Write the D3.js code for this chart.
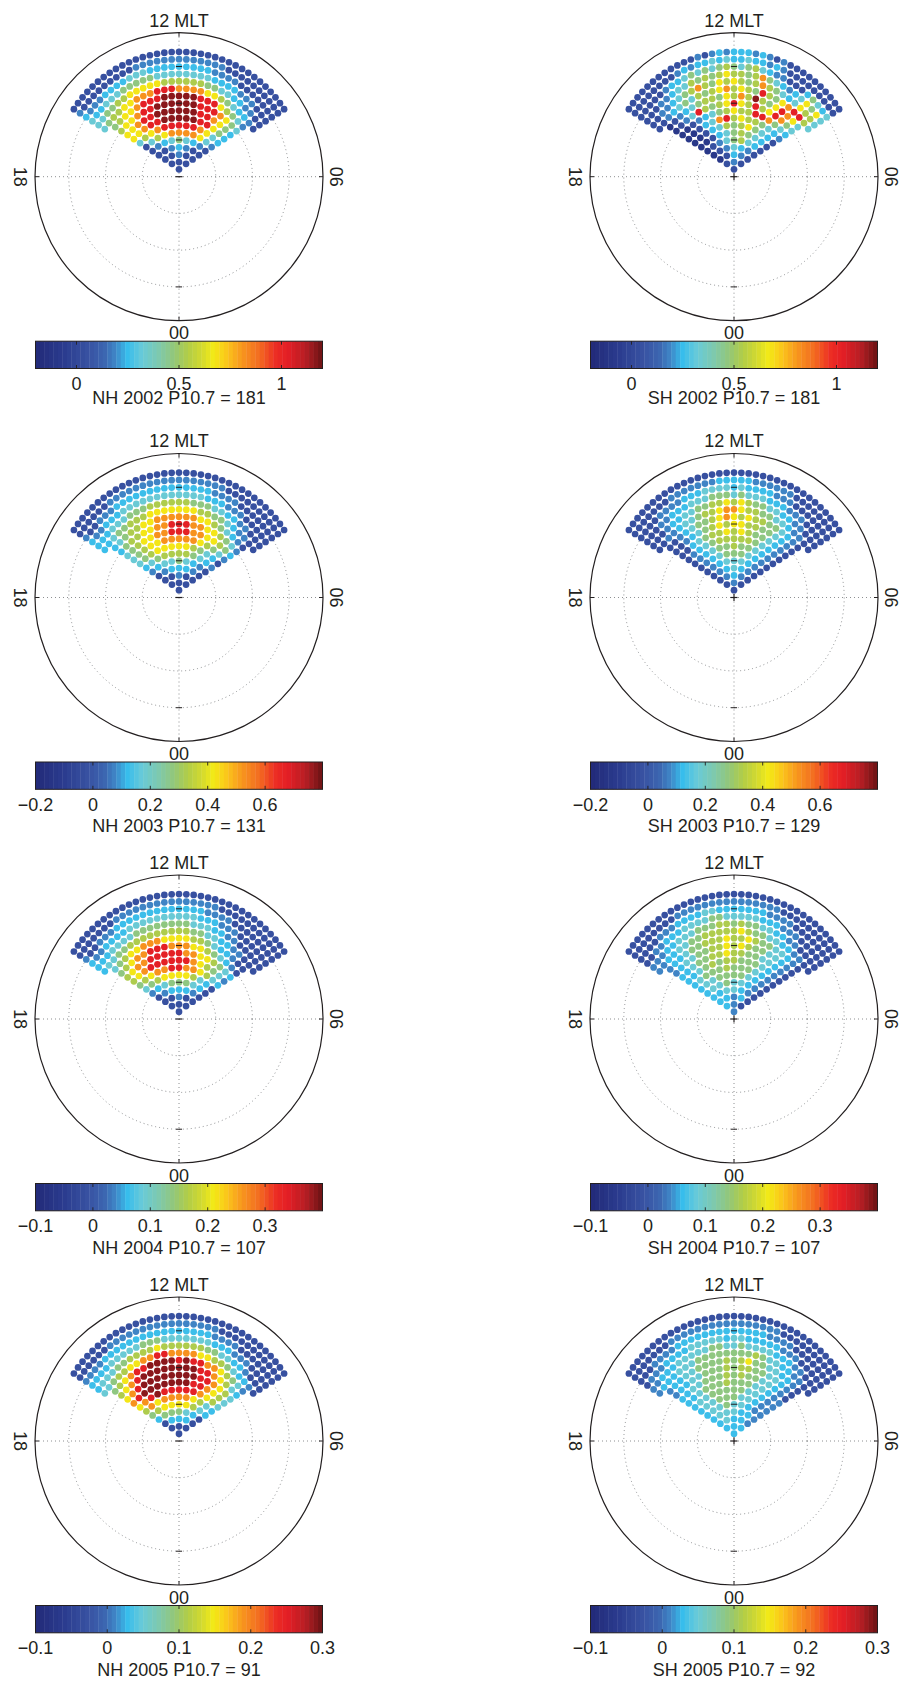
<!DOCTYPE html>
<html>
<head>
<meta charset="utf-8">
<script src="https://cdn.jsdelivr.net/npm/d3@7"></script>
<style>
  body { margin: 0; background: #fff; }
  svg { display: block; }
  text { font-family: "Liberation Sans", Arial, sans-serif; fill: #231f20; }
</style>
</head>
<body>
<svg id="fig" width="902" height="1681"></svg>
<script>
// Bin-centre colatitudes (deg) of the rings, pole outward; grid circles every 10 deg
const ringColat = [2, 4, 6, 8, 10, 12, 14, 16, 18, 20, 22, 24, 26, 28, 30, 32, 34];
const gridColat = [10, 20, 30];

// Each bin value is stored as one of 20 equal steps across its colour range
// (a = lowest step ... t = highest); one string per ring, dusk (18 MLT) to dawn (06 MLT).
const levelCodes = "abcdefghijklmnopqrst";

const nh2002 = [
  "d", "ddd", "ddfdd", "ddfgfdd", "dfghjhgfd", "dhkmoooomhf", "hkmorrrrromhg",
  "mmorrtttttrrmjg", "mmorrttttttrromjg", "kmmorrttttttrrromjh", "jkmmorrrtttttrrrmkjhf",
  "hjkkmmooorrroooommkjhggfd", "hhjjkkmmmmmkkkkkkjjhhggffdd", "hgghhhjjjjjhhhhhhhhggggfffddd",
  "gfffgggghhhgggggggggffffddddddd", "fdddddddddfffffffffffffdddddddddd",
  "ddddddddddddddddddddddddddddddddddd"
];
const sh2002 = [
  "d", "dfd", "bdgfd", "bdfhgfd", "bdfhjkhgd", "bbdghjkjhgd", "bbdghkjkmjhgd",
  "bbdghorkmkkjhgf", "bbdfghjkmkkrrojhg", "bdfhrkjkmrmkrkmrojh", "bdfghjkkjmkoktkjmromh",
  "ddfghjhkjkmokmkjrkjmorrkh", "ddffghjkokjmkmkjkokjhghmkkh", "dddffghhkjkjkmkkjkojhgfghmjmh",
  "dddddfgghjhjhjkjhjkhgffdddgjhgh", "ddddddddfgfgghghgghggfgfddddddddd",
  "ddddddddddddfdfgfgggfgfdfdddddddddd"
];
const nh2003 = [
  "d", "ddd", "ddfdd", "dfgggfd", "fghhjhgfd", "ghjkkkkjhgf", "hjkmmmmmkjhgd",
  "hjkmmooooomkjhf", "hjkmmoorrroommkjg", "gjkkmmoorrroommkjhf", "ghjkkmmoooooommkjhgfd",
  "gghjjkkkmmmmmmmkkjjhgffdd", "ggghhhjjjkkkkkkjjjhhggffddd", "gffggghhhhhhhhhhhhgggfffddddd",
  "fddfffggggggggggggggffffddddddd", "ddddddfffffffffffffffffdddddddddd",
  "ddddddddddddddddddddddddddddddddddd"
];
const sh2003 = [
  "d", "dfd", "dfgfd", "dfghgfd", "dfghhhgfd", "dfghjjjhgfd", "dfghjjkjjhgfd",
  "dfghjkkkkkjhgfd", "ddghjkkmkmkjjhgfd", "ddfghjkmkmmkkjjhgfd", "ddfghjjkmomkmkkjjhgfd",
  "ddffghhjkkmoomkkjjhhgffdd", "dddfgghhjjkkmkmkjjhhggffddd", "dddffggghhhjjjhjhhhgggfffdddd",
  "ddddffffggghhhhghggggfffddddddd", "dddddddfffffffgggggffffffdddddddd",
  "ddddddddddddddddddddddddddddddddddd"
];
const nh2004 = [
  "d", "ddd", "ddfdd", "dfgggfd", "fghjjjhgd", "hjkmmmmkhgd", "jkmoorroomkhg",
  "kmorrrrrromkjhf", "kmoorrrrroommkjhg", "jkmoorrrooommkjhgfd", "hjkmmooommmmkkjhggfdd",
  "ghhjjkkkkkkkkkjjhhggffddd", "ggghhhhjjjjjjjjhhhggffddddd", "gffgggghhhhhhhhhhgggfffdddddd",
  "fddfffgggggggggggggffffdddddddd", "dddddddfffffffffffffffddddddddddd",
  "ddddddddddddddddddddddddddddddddddd"
];
const sh2004 = [
  "f", "gfd", "ggfgd", "gghhgfd", "ghhjhhgfd", "ghhjjjjhgfd", "ghjjjkjjjhgfd",
  "gghjkjkkjjjhgfd", "gghjjkkmkkjjhhgfd", "fghhjjkkmkmkjjhhgfd", "fgghjjkkkmkkmkjjhhgfd",
  "ffgghhjjkkkkkmkjjhhggffdd", "fffgghhhjjjkkjkjjhhggffdddd", "ddffggghhhhjjhhhhhgggfffddddd",
  "ddddfffgggghhgggggggffffddddddd", "ddddddddfffffffffffffffdddddddddd",
  "ddddddddddddddddddddddddddddddddddd"
];
const nh2005 = [
  "d", "ddd", "dgggd", "gjjjhgd", "jkmmmmkhg", "komoooomkhg", "mortrrrrromkh",
  "ortttttttrromkh", "morttttttttrromkh", "kmorttttttttrromkhg", "jkmorrttttrtrroomkjhf",
  "hhjkkmmoorroooommkkjhggfd", "ghhhjjkkkkmkkkkkkjjhhggfddd", "gggghhhhhjjjhhhhhhhgggfffdddd",
  "ffffggggggggggggggggffffddddddd", "ddddddffffffffffffffffddddddddddd",
  "ddddddddddddddddddddddddddddddddddd"
];
const sh2005 = [
  "g", "ggg", "ghggf", "ghhhggf", "ghhjhhgff", "ghhjjjhhgff", "ghhjjjjjhhgff",
  "gghjjjkjjjhhgff", "gghhjjjkjkjjhhgfd", "fgghhjjjkjkkjjhhgfd", "fgghhjjjjkjkmjjhhggfd",
  "fggghhhjjjjjjjjkjhhggffdd", "ffggghhhhhjjhhjhhhhgggffddd", "dfffgggghhhhhghhgggggfffddddd",
  "dddffffgggggggggggggffffddddddd", "dddddddffffffffffffffffdddddddddd",
  "ddddddddddddddddddddddddddddddddddd"
];

// Panel descriptions, in reading order (row by row, NH left / SH right)
const panelData = [nh2002, sh2002, nh2003, sh2003, nh2004, sh2004, nh2005, sh2005];
const panelHemi = ["NH", "SH", "NH", "SH", "NH", "SH", "NH", "SH"];
const panelYear = [2002, 2002, 2003, 2003, 2004, 2004, 2005, 2005];
const panelF107 = [181, 181, 131, 129, 107, 107, 91, 92];

// Colour range and colour-bar ticks per year
const years = [2002, 2003, 2004, 2005];
const rangeLo = [-0.2, -0.2, -0.1, -0.1];
const rangeHi = [1.2, 0.8, 0.4, 0.3];
const yearTicks = [[0, 0.5, 1], [-0.2, 0, 0.2, 0.4, 0.6], [-0.1, 0, 0.1, 0.2, 0.3], [-0.1, 0, 0.1, 0.2, 0.3]];

// Jet-like colour map
const cmapFrac = [0, 0.10, 0.18, 0.24, 0.28, 0.32, 0.37, 0.43, 0.48, 0.53, 0.58, 0.62, 0.67, 0.72, 0.78, 0.84, 0.88, 0.94, 1];
const cmapCol = ["#222a78", "#2b3c8f", "#3851a1", "#3c65b0", "#3f88c8", "#37bdec", "#68cad9", "#7ec9ad",
                 "#91c77c", "#b1cd48", "#d3da2f", "#f3ea16", "#fbc31b", "#f7961e", "#f36b21", "#ec2a24",
                 "#e31e25", "#b71e24", "#6a1214"];

// ---- layout ----
const W = 902, H = 1681;
const R = 144;                      // radius of the polar frame
const colX = [179, 734];
const rowY = [176.7, 597.5, 1019, 1441];
const barHalf = 143.5, barTop = 164.5, barH = 27.3;
const dotR = 3.35;
const FS = 18;

const svg = d3.select("#fig");
svg.append("rect").attr("width", W).attr("height", H).attr("fill", "#fff");

const rScale = d3.scaleLinear().domain([0, 39.2]).range([0, R]);
const mltAngle = d3.scaleLinear().domain([6, 18]).range([Math.PI / 2, -Math.PI / 2]);
const cmap = d3.scaleLinear().domain(cmapFrac).range(cmapCol).interpolate(d3.interpolateRgb).clamp(true);
const fmt = d3.format("~g");
const colatStep = ringColat[1] - ringColat[0];

function decode(str, lo, hi) {
  return Array.from(str, c => lo + (levelCodes.indexOf(c) + 0.5) / levelCodes.length * (hi - lo));
}

panelData.forEach((rings, p) => {
  const cx = colX[p % 2], cy = rowY[Math.floor(p / 2)];
  const yi = years.indexOf(panelYear[p]);
  const lo = rangeLo[yi], hi = rangeHi[yi];
  const frac = d3.scaleLinear().domain([lo, hi]).range([0, 1]);
  const g = svg.append("g").attr("transform", `translate(${cx},${cy})`);

  // dotted grid circles and axes
  g.selectAll("circle.grid").data(gridColat).join("circle")
    .attr("class", "grid").attr("r", d => rScale(d))
    .attr("fill", "none").attr("stroke", "#808285").attr("stroke-width", 0.9)
    .attr("stroke-dasharray", "1 3");
  g.selectAll("line.axis").data([[-R, 0, R, 0], [0, -R, 0, R]]).join("line")
    .attr("class", "axis")
    .attr("x1", d => d[0]).attr("y1", d => d[1]).attr("x2", d => d[2]).attr("y2", d => d[3])
    .attr("stroke", "#808285").attr("stroke-width", 0.9).attr("stroke-dasharray", "1 3");

  // bins
  const pts = [];
  rings.forEach((str, ri) => {
    const colat = ringColat[ri];
    const vals = decode(str, lo, hi);
    const n = vals.length;
    const dHour = (colatStep / colat) * 12 / Math.PI;   // equal arc spacing along each ring
    vals.forEach((v, i) => {
      const mlt = 12 + ((n - 1) / 2 - i) * dHour;
      const a = mltAngle(mlt), rr = rScale(colat);
      pts.push({ x: rr * Math.sin(a), y: -rr * Math.cos(a), v });
    });
  });
  g.selectAll("circle.bin").data(pts).join("circle")
    .attr("class", "bin")
    .attr("cx", d => d.x).attr("cy", d => d.y).attr("r", dotR)
    .attr("fill", d => cmap(frac(d.v)));

  // small black marks on the noon axis and the centre
  const tickY = gridColat.map(c => -rScale(c)).concat([rScale(30)]);
  g.selectAll("line.mark").data(tickY).join("line")
    .attr("class", "mark").attr("x1", -3).attr("x2", 3).attr("y1", d => d).attr("y2", d => d)
    .attr("stroke", "#231f20").attr("stroke-width", 1);
  g.append("line").attr("x1", -3.5).attr("x2", 3.5).attr("y1", 0).attr("y2", 0)
    .attr("stroke", "#231f20").attr("stroke-width", 1.2);
  if (panelHemi[p] === "SH") {
    g.append("line").attr("x1", 0).attr("x2", 0).attr("y1", -3.5).attr("y2", 3.5)
      .attr("stroke", "#231f20").attr("stroke-width", 1.2);
  }
  // frame ticks where axes meet the circle
  g.selectAll("line.edge").data([[0, -R, 0, -R + 4], [0, R, 0, R - 4], [-R, 0, -R + 4, 0], [R, 0, R - 4, 0]])
    .join("line").attr("class", "edge")
    .attr("x1", d => d[0]).attr("y1", d => d[1]).attr("x2", d => d[2]).attr("y2", d => d[3])
    .attr("stroke", "#231f20").attr("stroke-width", 1);

  // outer frame
  g.append("circle").attr("r", R).attr("fill", "none").attr("stroke", "#231f20").attr("stroke-width", 1.2);

  // MLT labels
  g.append("text").attr("x", 0).attr("y", -R - 12.7 + 6.5).attr("text-anchor", "middle")
    .attr("font-size", FS).text("12 MLT");
  g.append("text").attr("x", 0).attr("y", R + 12.3 + 6.5).attr("text-anchor", "middle")
    .attr("font-size", FS).text("00");
  g.append("text").attr("transform", `translate(${-R - 15},0) rotate(90)`)
    .attr("text-anchor", "middle").attr("dy", "0.36em").attr("font-size", FS).text("18");
  g.append("text").attr("transform", `translate(${R + 13},0) rotate(90)`)
    .attr("text-anchor", "middle").attr("dy", "0.36em").attr("font-size", FS).text("06");

  // colour bar
  const bx = d3.scaleLinear().domain([lo, hi]).range([-barHalf, barHalf]);
  const nb = 64;
  const bands = d3.range(nb).map(i => lo + (i + 0.5) / nb * (hi - lo));
  g.selectAll("rect.band").data(bands).join("rect")
    .attr("class", "band")
    .attr("x", (d, i) => bx(lo + i / nb * (hi - lo)))
    .attr("width", 2 * barHalf / nb + 0.4)
    .attr("y", barTop).attr("height", barH)
    .attr("fill", d => cmap(frac(d)));
  const ticks = yearTicks[yi];
  g.selectAll("line.btick").data(ticks.flatMap(t => [[t, barTop, barTop + 3.5], [t, barTop + barH, barTop + barH - 3.5]]))
    .join("line").attr("class", "btick")
    .attr("x1", d => bx(d[0])).attr("x2", d => bx(d[0]))
    .attr("y1", d => d[1]).attr("y2", d => d[2])
    .attr("stroke", "#231f20").attr("stroke-width", 0.9);
  g.append("rect").attr("x", -barHalf).attr("y", barTop).attr("width", 2 * barHalf).attr("height", barH)
    .attr("fill", "none").attr("stroke", "#231f20").attr("stroke-width", 1);
  g.selectAll("text.blab").data(ticks).join("text")
    .attr("class", "blab").attr("x", d => bx(d)).attr("y", barTop + barH + 15 + 6.5)
    .attr("text-anchor", "middle").attr("font-size", FS).text(d => fmt(d));

  // panel caption
  const capY = (p < 2 ? 221 : 228) + 6.5;
  g.append("text").attr("x", 0).attr("y", capY).attr("text-anchor", "middle").attr("font-size", FS)
    .text(`${panelHemi[p]} ${panelYear[p]} P10.7 = ${panelF107[p]}`);
});
</script>
</body>
</html>
